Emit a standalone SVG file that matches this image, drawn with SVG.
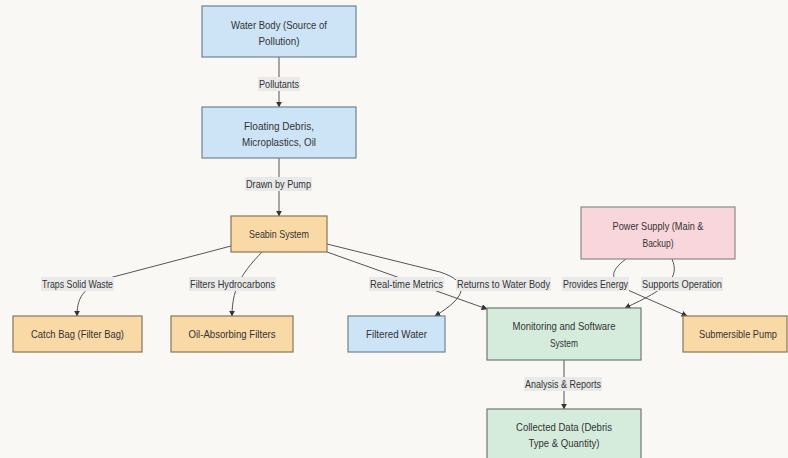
<svg xmlns="http://www.w3.org/2000/svg" width="788" height="458" viewBox="0 0 788 458">
<defs>
<style>
.bg{fill:#faf8f5}
.n rect{stroke-width:1.2}
.blue rect{fill:#cce4f6;stroke:#6e8494}
.orange rect{fill:#f9d9a6;stroke:#8a7556}
.pink rect{fill:#f8d6dc;stroke:#8a8a8a}
.green rect{fill:#d5ebdc;stroke:#6f7a72}
text{font-family:"Liberation Sans",Arial,sans-serif;font-size:10.5px;fill:#333;text-anchor:middle}
.e path{fill:none;stroke:#555;stroke-width:1;marker-end:url(#arr)}
.lb rect{fill:#e9e9e9}
</style>
<marker id="arr" viewBox="0 0 10 10" refX="9" refY="5" markerWidth="6" markerHeight="6" orient="auto" markerUnits="userSpaceOnUse">
<path d="M0,0 L10,5 L0,10 z" fill="#333"/>
</marker>
</defs>
<rect class="bg" x="0" y="0" width="788" height="458"/>
<g id="connectors" class="e">
<path d="M279,57 L279,107"/>
<path d="M279,158 L279,216"/>
<path d="M231,246 L113,277 C85,286 77,295 77,316"/>
<path d="M262,252 C245,270 232,285 232,316"/>
<path d="M327,252 L487,309"/>
<path d="M327,244 L440,272 C470,282 468,296 435,316"/>
<path d="M672,259 C680,278 668,288 625,308"/>
<path d="M626,259 C608,272 610,282 630,291 L687,316"/>
<path d="M564,360 L564,409"/>
</g>
<g id="edge-labels" class="lb">
<rect x="258" y="77" width="42" height="14"/><text x="279" y="87.5" textLength="40" lengthAdjust="spacingAndGlyphs">Pollutants</text>
<rect x="245" y="177" width="67" height="14"/><text x="278.5" y="187.5" textLength="65" lengthAdjust="spacingAndGlyphs">Drawn by Pump</text>
<rect x="41" y="277" width="73" height="14"/><text x="77.5" y="287.5" textLength="71" lengthAdjust="spacingAndGlyphs">Traps Solid Waste</text>
<rect x="189" y="277" width="87" height="14"/><text x="232.5" y="287.5" textLength="85" lengthAdjust="spacingAndGlyphs">Filters Hydrocarbons</text>
<rect x="369" y="277" width="75" height="14"/><text x="406.5" y="287.5" textLength="73" lengthAdjust="spacingAndGlyphs">Real-time Metrics</text>
<rect x="456" y="277" width="95" height="14"/><text x="503.5" y="287.5" textLength="93" lengthAdjust="spacingAndGlyphs">Returns to Water Body</text>
<rect x="562" y="277" width="67" height="14"/><text x="595.5" y="287.5" textLength="65" lengthAdjust="spacingAndGlyphs">Provides Energy</text>
<rect x="641" y="277" width="82" height="14"/><text x="682" y="287.5" textLength="80" lengthAdjust="spacingAndGlyphs">Supports Operation</text>
<rect x="524" y="377" width="78" height="14"/><text x="563" y="387.5" textLength="76" lengthAdjust="spacingAndGlyphs">Analysis &amp; Reports</text>
</g>
<g id="water-body" class="n blue"><rect x="202" y="6" width="154" height="51"/><text x="279" y="28.5" textLength="96" lengthAdjust="spacingAndGlyphs">Water Body (Source of</text><text x="279" y="44.5" textLength="41" lengthAdjust="spacingAndGlyphs">Pollution)</text></g>
<g id="floating-debris" class="n blue"><rect x="202" y="107" width="154" height="51"/><text x="279" y="129.5" textLength="70" lengthAdjust="spacingAndGlyphs">Floating Debris,</text><text x="279" y="145.5" textLength="74" lengthAdjust="spacingAndGlyphs">Microplastics, Oil</text></g>
<g id="seabin" class="n orange"><rect x="231" y="216" width="96" height="36"/><text x="279" y="237.5" textLength="60" lengthAdjust="spacingAndGlyphs">Seabin System</text></g>
<g id="catch-bag" class="n orange"><rect x="13" y="316" width="129" height="36"/><text x="77.5" y="337.5" textLength="93" lengthAdjust="spacingAndGlyphs">Catch Bag (Filter Bag)</text></g>
<g id="oil-filters" class="n orange"><rect x="171" y="316" width="122" height="36"/><text x="232" y="337.5" textLength="87" lengthAdjust="spacingAndGlyphs">Oil-Absorbing Filters</text></g>
<g id="filtered-water" class="n blue"><rect x="348" y="316" width="97" height="36"/><text x="396.5" y="337.5" textLength="61" lengthAdjust="spacingAndGlyphs">Filtered Water</text></g>
<g id="monitoring" class="n green"><rect x="487" y="308" width="154" height="52"/><text x="564" y="330" textLength="103" lengthAdjust="spacingAndGlyphs">Monitoring and Software</text><text x="564" y="346.5" textLength="28" lengthAdjust="spacingAndGlyphs">System</text></g>
<g id="collected-data" class="n green"><rect x="487" y="409" width="154" height="60"/><text x="564" y="431" textLength="96" lengthAdjust="spacingAndGlyphs">Collected Data (Debris</text><text x="564" y="447" textLength="71" lengthAdjust="spacingAndGlyphs">Type &amp; Quantity)</text></g>
<g id="power-supply" class="n pink"><rect x="581" y="207" width="154" height="52"/><text x="658" y="229.5" textLength="91" lengthAdjust="spacingAndGlyphs">Power Supply (Main &amp;</text><text x="658" y="246.5" textLength="31" lengthAdjust="spacingAndGlyphs">Backup)</text></g>
<g id="pump" class="n orange"><rect x="683" y="316" width="104" height="36"/><text x="738" y="337.5" textLength="78" lengthAdjust="spacingAndGlyphs">Submersible Pump</text></g>
</svg>
